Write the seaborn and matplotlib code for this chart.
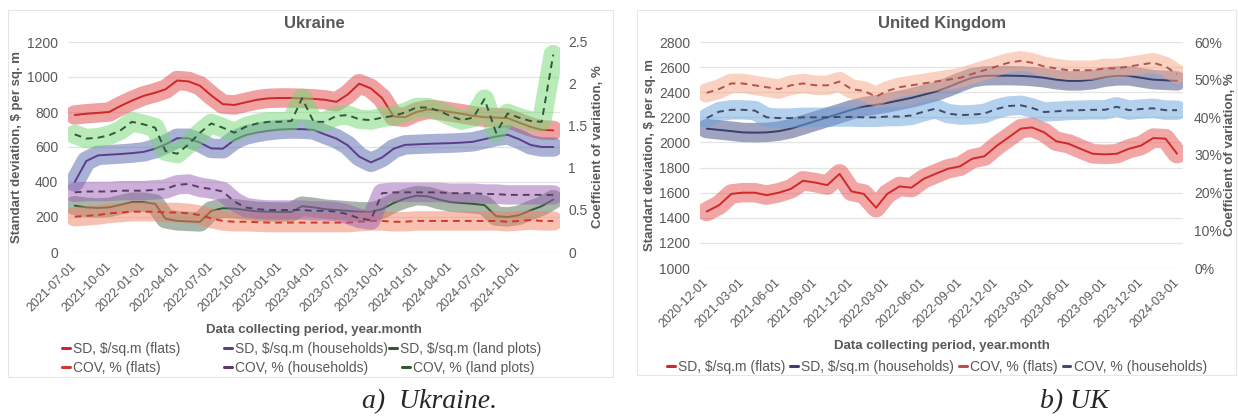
import matplotlib
matplotlib.use("Agg")
import matplotlib.pyplot as plt
import numpy as np
import pandas as pd
import seaborn as sns
from matplotlib.lines import Line2D
from matplotlib.patches import Rectangle

# ---------------- Ukraine: monthly series, 2021-07 .. 2025-01 ----------------
ua_start = "2021-07-01"
ua_tick_start, ua_tick_end = "2021-07-01", "2024-10-01"

ua_sd_flats = [783, 790, 795, 800, 835, 865, 892, 910, 930, 980,
               975, 950, 895, 845, 840, 855, 870, 878, 880, 880,
               878, 875, 870, 858, 900, 962, 935, 880, 775, 770,
               800, 815, 810, 800, 790, 778, 770, 768, 765, 740,
               715, 698, 695]
ua_sd_households = [400, 520, 552, 556, 560, 565, 572, 590, 615, 650,
                    650, 625, 592, 590, 640, 668, 683, 693, 700, 703,
                    702, 698, 672, 648, 610, 545, 512, 540, 590, 612,
                    615, 618, 620, 622, 625, 630, 645, 660, 670, 645,
                    612, 600, 600]
ua_sd_land = [265, 255, 252, 255, 270, 285, 285, 275, 190, 178,
              175, 172, 235, 250, 248, 240, 232, 230, 229, 229,
              262, 255, 245, 240, 235, 230, 229, 245, 280, 305,
              322, 318, 300, 285, 280, 275, 268, 205, 200, 210,
              238, 262, 300]
ua_cov_flats = [0.42, 0.43, 0.44, 0.46, 0.47, 0.48, 0.48, 0.48, 0.47, 0.47,
                0.46, 0.44, 0.40, 0.37, 0.36, 0.36, 0.355, 0.35, 0.35, 0.35,
                0.35, 0.35, 0.35, 0.35, 0.35, 0.36, 0.37, 0.37, 0.36, 0.36,
                0.37, 0.37, 0.37, 0.37, 0.37, 0.37, 0.37, 0.37, 0.36, 0.37,
                0.38, 0.37, 0.37]
ua_cov_households = [0.71, 0.72, 0.72, 0.72, 0.73, 0.73, 0.73, 0.74, 0.75, 0.80,
                     0.81, 0.77, 0.75, 0.72, 0.60, 0.53, 0.51, 0.50, 0.50, 0.50,
                     0.50, 0.49, 0.49, 0.48, 0.45, 0.40, 0.38, 0.70, 0.71, 0.71,
                     0.71, 0.71, 0.71, 0.70, 0.70, 0.70, 0.69, 0.69, 0.68, 0.68,
                     0.68, 0.68, 0.68]
ua_cov_land = [1.40, 1.35, 1.36, 1.39, 1.45, 1.55, 1.52, 1.48, 1.20, 1.17,
               1.28, 1.42, 1.53, 1.48, 1.42, 1.49, 1.53, 1.55, 1.55, 1.56,
               1.83, 1.55, 1.55, 1.62, 1.63, 1.58, 1.57, 1.60, 1.62, 1.66,
               1.72, 1.72, 1.68, 1.62, 1.57, 1.60, 1.82, 1.42, 1.65, 1.60,
               1.56, 1.55, 2.35]

# ---------------- United Kingdom: monthly series, 2020-12 .. 2024-03 ----------------
uk_start = "2020-12-01"
uk_tick_start, uk_tick_end = "2020-12-01", "2024-03-01"

uk_sd_flats = [1450, 1500, 1590, 1600, 1600, 1580, 1600, 1630, 1695, 1680,
               1660, 1750, 1610, 1590, 1480, 1590, 1650, 1640, 1710, 1750,
               1790, 1810, 1870, 1890, 1970, 2040, 2110, 2120, 2080, 2010,
               1990, 1950, 1910, 1905, 1910, 1950, 1975, 2035, 2030, 1910]
uk_sd_households = [2110, 2100, 2090, 2080, 2078, 2080, 2090, 2110, 2140, 2170,
                    2200, 2230, 2260, 2285, 2300, 2315, 2335, 2355, 2380, 2405,
                    2440, 2480, 2515, 2530, 2532, 2532, 2530, 2525, 2515, 2500,
                    2490, 2490, 2500, 2520, 2530, 2530, 2515, 2500, 2495, 2490]
uk_cov_flats = [46.5, 47.5, 49.0, 49.0, 48.5, 48.0, 47.5, 48.5, 49.0, 48.5,
                48.5, 49.5, 47.5, 47.0, 45.5, 47.0, 48.0, 48.5, 49.0, 49.5,
                50.0, 50.5, 51.5, 52.5, 53.5, 54.5, 55.0, 54.5, 53.5, 53.0,
                52.5, 52.5, 52.5, 53.0, 53.0, 53.5, 54.0, 54.5, 53.5, 51.5]
uk_cov_households = [39.8, 41.5, 42.0, 42.0, 41.8, 40.0, 39.8, 39.8, 40.0, 40.0,
                     40.0, 40.1, 40.1, 40.0, 40.0, 40.2, 40.2, 40.5, 41.5, 42.3,
                     41.0, 40.6, 40.7, 41.0, 42.2, 43.0, 43.2, 42.5, 41.4, 41.6,
                     41.8, 41.9, 42.0, 42.0, 42.8, 41.9, 42.2, 42.4, 41.9, 41.9]

ua_left_ticks = [0, 200, 400, 600, 800, 1000, 1200]
ua_right_ticks = [0, 0.5, 1, 1.5, 2, 2.5]
ua_right_labels = ["0", "0.5", "1", "1.5", "2", "2.5"]
uk_left_ticks = [1000, 1200, 1400, 1600, 1800, 2000, 2200, 2400, 2600, 2800]
uk_right_ticks = [0, 10, 20, 30, 40, 50, 60]
uk_right_labels = ["0%", "10%", "20%", "30%", "40%", "50%", "60%"]

ua_labels = ["SD, $/sq.m (flats)", "SD, $/sq.m (households)", "SD, $/sq.m (land plots)",
             "COV, % (flats)", "COV, % (households)", "COV, % (land plots)"]
uk_labels = ["SD, $/sq.m (flats)", "SD, $/sq.m (households)",
             "COV, % (flats)", "COV, % (households)"]

# ---------------- styling ----------------
sns.set_theme(style="white")
plt.rcParams["font.family"] = ["Liberation Sans", "DejaVu Sans"]
TXT = "#595959"
GRID = "#e4e4e4"
W, H = 1238, 416

fig = plt.figure(figsize=(W / 100, H / 100), dpi=100)


def fx(px):
    return px / W


def fy(py):
    return 1 - py / H


def glow_line(ax, dates, values, line_color, band_color, dashed=False):
    df = pd.DataFrame({"period": dates, "value": values})
    sns.lineplot(data=df, x="period", y="value", ax=ax, color=band_color,
                 lw=14, alpha=0.5, solid_capstyle="round",
                 solid_joinstyle="round", legend=False)
    style = (0, (3.5, 2.6)) if dashed else "-"
    sns.lineplot(data=df, x="period", y="value", ax=ax, color=line_color,
                 lw=1.4, linestyle=style, legend=False)


def style_axes(ax, ax2, left_ticks, right_ticks, right_labels, tick_dates,
               xlim, right_pad):
    ax.set_xlim(*xlim)
    ax.set_ylim(left_ticks[0], left_ticks[-1])
    ax.set_yticks(left_ticks)
    ax.set_yticklabels([str(t) for t in left_ticks])
    ax2.set_ylim(right_ticks[0], right_ticks[-1])
    ax2.set_yticks(right_ticks)
    ax2.set_yticklabels(right_labels)
    ax.set_xticks(tick_dates)
    ax.set_xticklabels([d.strftime("%Y-%m-%d") for d in tick_dates],
                       rotation=45, ha="right", va="center",
                       rotation_mode="anchor")
    ax.tick_params(axis="x", length=0, pad=9, labelsize=9, labelcolor=TXT)
    ax.tick_params(axis="y", length=0, pad=7, labelsize=10, labelcolor=TXT)
    ax2.tick_params(axis="y", length=0, pad=right_pad, labelsize=10, labelcolor=TXT)
    ax.grid(axis="y", color=GRID, lw=0.9)
    ax.grid(axis="x", visible=False)
    ax2.grid(False)
    for a in (ax, ax2):
        for s in a.spines.values():
            s.set_visible(False)
    ax.set_facecolor("none")


def entry_legend(label, color, x_px, y_px):
    handle = Line2D([], [], color=color, lw=2.2)
    fig.legend([handle], [label], loc="center left",
               bbox_to_anchor=(fx(x_px), fy(y_px)), frameon=False,
               fontsize=10, handlelength=0.55, handletextpad=0.25,
               borderpad=0, borderaxespad=0, labelcolor=TXT)


# ---------------- panel frames ----------------
for x0, x1, y0, y1 in [(8, 613, 10, 377), (637, 1236, 10, 375)]:
    fig.add_artist(Rectangle((fx(x0), fy(y1)), (x1 - x0) / W, (y1 - y0) / H,
                             transform=fig.transFigure, fill=False,
                             ec="#e6e6e6", lw=0.8))

# ---------------- Ukraine ----------------
ua_dates = pd.date_range(ua_start, periods=len(ua_sd_flats), freq="MS")
ua_ticks = pd.date_range(ua_tick_start, ua_tick_end, freq="3MS")
ax_ua = fig.add_axes([fx(68), fy(252), fx(560) - fx(68), fy(42) - fy(252)])
ax_ua2 = ax_ua.twinx()

ua_colors = {
    "sd_flats": ("#cf2626", "#e34545"),
    "sd_households": ("#5b3d8c", "#5565ad"),
    "sd_land": ("#2f5c35", "#536c55"),
    "cov_flats": ("#d4372a", "#f18363"),
    "cov_households": ("#5d3a6a", "#9a63b5"),
    "cov_land": ("#2d5b36", "#72d972"),
}
glow_line(ax_ua, ua_dates, ua_sd_flats, *ua_colors["sd_flats"])
glow_line(ax_ua, ua_dates, ua_sd_households, *ua_colors["sd_households"])
glow_line(ax_ua, ua_dates, ua_sd_land, *ua_colors["sd_land"])
glow_line(ax_ua2, ua_dates, ua_cov_flats, *ua_colors["cov_flats"], dashed=True)
glow_line(ax_ua2, ua_dates, ua_cov_households, *ua_colors["cov_households"], dashed=True)
glow_line(ax_ua2, ua_dates, ua_cov_land, *ua_colors["cov_land"], dashed=True)

pad = pd.Timedelta(days=18)
style_axes(ax_ua, ax_ua2, ua_left_ticks, ua_right_ticks, ua_right_labels,
           ua_ticks, (ua_dates[0] - pad, ua_dates[-1] + pad), right_pad=6)
ax_ua.set_title("Ukraine", fontsize=12, fontweight="bold", color=TXT, pad=10)
ax_ua.set_xlabel("Data collecting period, year.month", fontsize=9.5,
                 fontweight="bold", color=TXT)
ax_ua.xaxis.set_label_coords(0.5 * (fx(68) + fx(560)), fy(324), transform=fig.transFigure)
ax_ua.set_ylabel("Standart deviation, $ per sq. m", fontsize=9.5,
                 fontweight="bold", color=TXT)
ax_ua.yaxis.set_label_coords(fx(23), 0.5 * (fy(42) + fy(252)), transform=fig.transFigure)
ax_ua2.set_ylabel("Coefficient of variation, %", fontsize=9.5,
                  fontweight="bold", color=TXT)
ax_ua2.yaxis.set_label_coords(fx(592), 0.5 * (fy(42) + fy(252)), transform=fig.transFigure)

ua_order = ["sd_flats", "sd_households", "sd_land",
            "cov_flats", "cov_households", "cov_land"]
ua_entry_pos = [(62, 349), (224, 349), (389, 349),
                (62, 368), (224, 368), (402, 368)]
for key, label, (px, py) in zip(ua_order, ua_labels, ua_entry_pos):
    entry_legend(label, ua_colors[key][0], px, py)

# ---------------- United Kingdom ----------------
uk_dates = pd.date_range(uk_start, periods=len(uk_sd_flats), freq="MS")
uk_ticks = pd.date_range(uk_tick_start, uk_tick_end, freq="3MS")
ax_uk = fig.add_axes([fx(700), fy(268), fx(1183) - fx(700), fy(42) - fy(268)])
ax_uk2 = ax_uk.twinx()

uk_colors = {
    "sd_flats": ("#d22828", "#e64e4e"),
    "sd_households": ("#3b3d6c", "#3f4b80"),
    "cov_flats": ("#b9504b", "#f7a787"),
    "cov_households": ("#3f4a6e", "#69a2dd"),
}
glow_line(ax_uk, uk_dates, uk_sd_flats, *uk_colors["sd_flats"])
glow_line(ax_uk, uk_dates, uk_sd_households, *uk_colors["sd_households"])
glow_line(ax_uk2, uk_dates, uk_cov_flats, *uk_colors["cov_flats"], dashed=True)
glow_line(ax_uk2, uk_dates, uk_cov_households, *uk_colors["cov_households"], dashed=True)

style_axes(ax_uk, ax_uk2, uk_left_ticks, uk_right_ticks, uk_right_labels,
           uk_ticks, (uk_dates[0] - pd.Timedelta(days=17), uk_dates[-1] + pd.Timedelta(days=15)),
           right_pad=8)
ax_uk.set_title("United Kingdom", fontsize=12, fontweight="bold", color=TXT, pad=10)
ax_uk.set_xlabel("Data collecting period, year.month", fontsize=9.5,
                 fontweight="bold", color=TXT)
ax_uk.xaxis.set_label_coords(0.5 * (fx(700) + fx(1183)), fy(340), transform=fig.transFigure)
ax_uk.set_ylabel("Standart deviation, $ per sq. m", fontsize=9.5,
                 fontweight="bold", color=TXT)
ax_uk.yaxis.set_label_coords(fx(656), 0.5 * (fy(42) + fy(268)), transform=fig.transFigure)
ax_uk2.set_ylabel("Coefficient of variation, %", fontsize=9.5,
                  fontweight="bold", color=TXT)
ax_uk2.yaxis.set_label_coords(fx(1224), 0.5 * (fy(42) + fy(268)), transform=fig.transFigure)

uk_handles = [Line2D([], [], color=uk_colors[k][0], lw=2.2)
              for k in ["sd_flats", "sd_households", "cov_flats", "cov_households"]]
fig.legend(uk_handles, uk_labels, loc="center", ncol=4,
           bbox_to_anchor=(fx(937), fy(367)), frameon=False, fontsize=10,
           handlelength=0.55, handletextpad=0.25, columnspacing=0.35,
           borderpad=0, borderaxespad=0, labelcolor=TXT)

# ---------------- captions ----------------
fig.text(fx(362), fy(402), "a)  Ukraine.", fontsize=20, style="italic",
         family=["Liberation Serif", "DejaVu Serif"], va="center", ha="left")
fig.text(fx(1040), fy(402), "b) UK", fontsize=20, style="italic",
         family=["Liberation Serif", "DejaVu Serif"], va="center", ha="left")

fig.savefig("out.png", dpi=100, facecolor="white")
